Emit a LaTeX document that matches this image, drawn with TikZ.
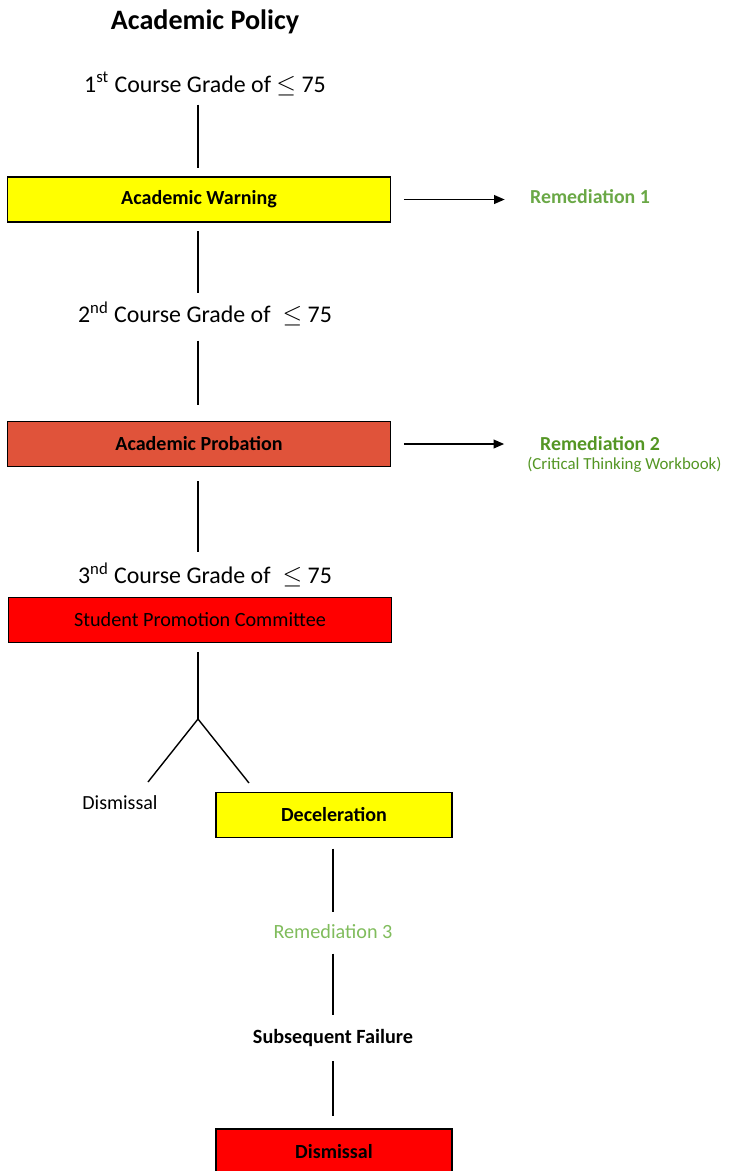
\documentclass[tikz,border=0pt]{standalone}
\usepackage{fontspec}
\setmainfont{Carlito}
\usetikzlibrary{arrows.meta,positioning,calc}
\definecolor{warnyellow}{RGB}{255,255,0}
\definecolor{probred}{RGB}{224,83,58}
\definecolor{spcred}{RGB}{255,0,0}
\definecolor{remgreen}{RGB}{106,168,70}
\definecolor{remgreendark}{RGB}{84,150,36}
\definecolor{remgreenlight}{RGB}{128,188,92}
\tikzset{box/.style={draw,line width=0.6pt,minimum width=7.68cm,minimum height=0.9cm,inner sep=0pt,font=\fontsize{11.4}{13}\selectfont\bfseries},
  smallbox/.style={box,minimum width=4.72cm},
  lbl/.style={inner sep=0pt,font=\fontsize{13.6}{16}\selectfont},
  link/.style={line width=0.8pt,shorten <=5pt,shorten >=5pt},
  arr/.style={-{Triangle[length=6pt,width=5pt]},line width=0.8pt,shorten <=7pt,shorten >=11pt}}

\begin{document}
\begin{tikzpicture}[x=0.02cm,y=-0.02cm]
\useasboundingbox (0,0) rectangle (728,1171);
\node[font=\fontsize{16}{19}\selectfont\bfseries] (title) at (205,22) {Academic Policy};
\node[lbl] (grade1) at (205,84) {1\textsuperscript{st} Course Grade of $\leq$ 75};
\node[box,fill=warnyellow] (warn) at (199,199.5) {Academic Warning};
\node[font=\fontsize{11.3}{13}\selectfont\bfseries,text=remgreen,anchor=west] (rem1) at (524,197) {Remediation 1};
\node[lbl] (grade2) at (205,314) {2\textsuperscript{nd} Course Grade of\enspace$\leq$ 75};
\node[box,fill=probred] (prob) at (199,444) {Academic Probation};
\node[font=\fontsize{11.3}{13}\selectfont\bfseries,text=remgreendark,anchor=west] (rem2) at (534,444) {Remediation 2};
\node[font=\fontsize{9.6}{11}\selectfont,text=remgreendark,anchor=west,inner sep=0pt] (workbook) at (527,465) {(Critical Thinking Workbook)};
\node[lbl] (grade3) at (205,575) {3\textsuperscript{nd} Course Grade of\enspace$\leq$ 75};
\node[box,fill=spcred,font=\fontsize{11.5}{13}\selectfont] (spc) at (200,620) {Student Promotion Committee};
\coordinate (fork) at (198,719);
\coordinate (forkl) at (148,782);
\coordinate (forkr) at (249,783);
\node[inner sep=0pt,font=\fontsize{11.4}{13}\selectfont] (dismisslbl) at (120,803) {Dismissal};
\node[smallbox,fill=warnyellow] (decel) at (334,815) {Deceleration};
\node[inner sep=0pt,font=\fontsize{11.5}{13}\selectfont,text=remgreenlight] (rem3) at (333,932) {Remediation 3};
\node[inner sep=0pt,font=\fontsize{11.5}{13}\selectfont\bfseries] (fail) at (333,1038) {Subsequent Failure};
\node[smallbox,fill=spcred] (dismiss) at (334,1151.5) {Dismissal};
% main column
\draw[link] (grade1.south -| 198,0) -- (warn.north -| 198,0);
\draw[link] (warn.south -| 198,0) -- (grade2.north -| 198,0);
\draw[link,shorten <=8pt,shorten >=9pt] (grade2.south -| 198,0) -- (prob.north -| 198,0);
\draw[link,shorten <=8pt,shorten >=6pt] (prob.south -| 198,0) -- (grade3.north -| 198,0);
% remediation arrows
\draw[arr] (warn.east) -- (warn.east -| rem1.west);
\draw[arr,shorten >=17pt] (prob.east) -- (prob.east -| rem2.west);
% committee branch
\draw[link,shorten >=0pt] (spc.south -| 198,0) -- (fork);
\draw[line width=0.8pt] (forkl) -- (fork) -- (forkr);
\draw[link,shorten <=6pt,shorten >=7pt] (decel.south -| 333,0) -- (rem3.north);
\draw[link,shorten <=8pt,shorten >=8pt] (rem3.south) -- (fail.north);
\draw[link,shorten <=8pt,shorten >=7pt] (fail.south) -- (dismiss.north -| 333,0);
\end{tikzpicture}
\end{document}
